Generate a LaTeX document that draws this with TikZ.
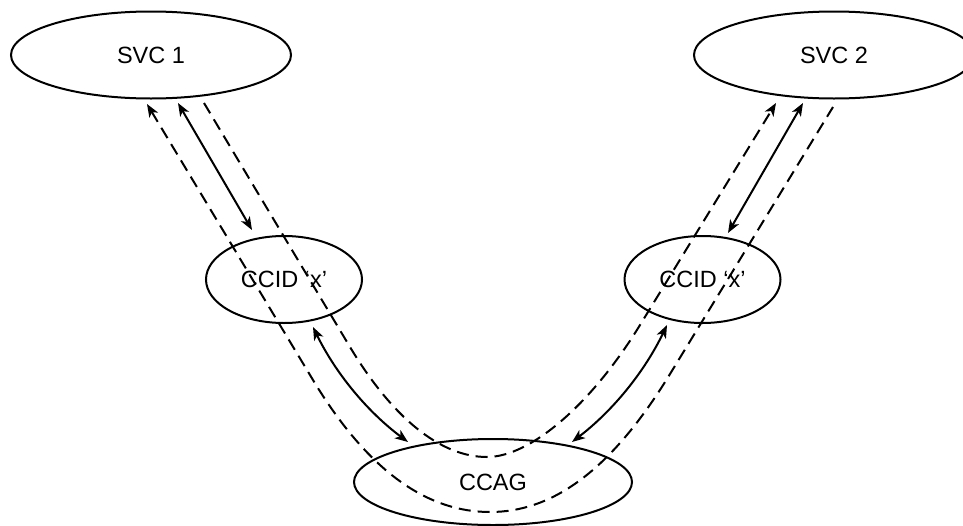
\documentclass[tikz,border=0pt]{standalone}
\usepackage{fontspec}
\setmainfont{Liberation Sans}
\usetikzlibrary{arrows.meta,shapes.geometric}
\begin{document}
\begin{tikzpicture}[x=1pt,y=-1pt,
  ell/.style={draw, line width=2pt, ellipse, inner sep=0pt, font=\fontsize{23.5}{28}\selectfont},
  dline/.style={line width=2pt, dash pattern=on 12pt off 7pt},
  sline/.style={line width=2pt},
  >={Stealth[length=13pt,width=10pt,inset=3.5pt]}]
\useasboundingbox (0,0) rectangle (963,525);
\clip (0,0) rectangle (963,525);
% nodes
\node[ell, minimum width=280pt, minimum height=87pt] (svc1) at (151,55) {SVC 1};
\node[ell, minimum width=280pt, minimum height=87pt] (svc2) at (834,55) {SVC 2};
\node[ell, minimum width=156pt, minimum height=87pt] (ccid1) at (284,279.5) {CCID ‘x’};
\node[ell, minimum width=156pt, minimum height=87pt] (ccid2) at (702.5,279.5) {CCID ‘x’};
\node[ell, minimum width=278pt, minimum height=86pt] (ccag) at (493,482) {CCAG};
% dashed end points
\coordinate (o1) at (147,104);
\coordinate (o2) at (310,375);
\coordinate (o3) at (490,512);
\coordinate (o4) at (670,374);
\coordinate (o5) at (833,107);
\coordinate (i1) at (204,103);
\coordinate (i2) at (350,347);
\coordinate (i3) at (487,457);
\coordinate (i4) at (640,325);
\coordinate (i5) at (776,103);
% solid arrow end points
\coordinate (a1s) at (178,103);
\coordinate (a1e) at (252,230);
\coordinate (a2s) at (313,327);
\coordinate (a2e) at (408,442);
\coordinate (a3s) at (667,325);
\coordinate (a3e) at (572,442);
\coordinate (a4s) at (803,103);
\coordinate (a4e) at (728,233);
% dashed paths
\draw[dline,<-] (o1) -- (o2) .. controls (369,475) and (430,512) .. (o3)
   .. controls (550,512) and (609,474) .. (o4) -- (o5);
\draw[dline,->] (i1) -- (i2) .. controls (392,417) and (440,457) .. (i3)
   .. controls (530,457) and (591,405) .. (i4) -- (i5);
% solid arrows
\draw[sline,<->] (a1s) -- (a1e);
\draw[sline,<->] (a2s) .. controls (335.5,373) and (367,411.4) .. (a2e);
\draw[sline,<->] (a3s) .. controls (644.6,371.6) and (613,410.6) .. (a3e);
\draw[sline,<->] (a4s) -- (a4e);
\end{tikzpicture}
\end{document}
